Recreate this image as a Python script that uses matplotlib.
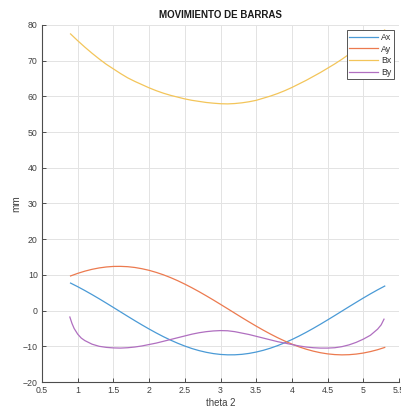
import matplotlib
matplotlib.use("Agg")
import matplotlib.pyplot as plt

plt.rcParams['font.family'] = ['Liberation Sans', 'DejaVu Sans']

# crank angle (rad)
theta = [0.9, 1.0, 1.1, 1.2, 1.3, 1.4, 1.5, 1.6, 1.7, 1.8, 1.9, 2.0, 2.1, 2.2,
         2.3, 2.4, 2.5, 2.6, 2.7, 2.8, 2.9, 3.0, 3.1, 3.2, 3.3, 3.4, 3.5, 3.6,
         3.7, 3.8, 3.9, 4.0, 4.1, 4.2, 4.3, 4.4, 4.5, 4.6, 4.7, 4.8, 4.9, 5.0,
         5.1, 5.2, 5.3]

ax_pos = [7.71, 6.70, 5.62, 4.49, 3.32, 2.11, 0.88, -0.36, -1.60, -2.82, -4.01,
          -5.16, -6.26, -7.30, -8.26, -9.14, -9.93, -10.63, -11.21, -11.68,
          -12.04, -12.28, -12.39, -12.38, -12.25, -11.99, -11.61, -11.12,
          -10.52, -9.81, -9.00, -8.11, -7.13, -6.08, -4.97, -3.81, -2.61,
          -1.39, -0.15, 1.09, 2.31, 3.52, 4.69, 5.81, 6.87]

ay_pos = [9.71, 10.43, 11.05, 11.56, 11.95, 12.22, 12.37, 12.39, 12.30, 12.08,
          11.73, 11.28, 10.70, 10.03, 9.25, 8.38, 7.42, 6.39, 5.30, 4.15, 2.97,
          1.75, 0.52, -0.72, -1.96, -3.17, -4.35, -5.49, -6.57, -7.59, -8.53,
          -9.38, -10.15, -10.81, -11.36, -11.80, -12.12, -12.32, -12.40,
          -12.35, -12.18, -11.89, -11.48, -10.96, -10.32]

bx_pos = [77.5, 75.6, 73.8, 72.1, 70.5, 69.0, 67.7, 66.4, 65.2, 64.2, 63.3,
          62.4, 61.6, 60.9, 60.3, 59.8, 59.3, 58.9, 58.6, 58.3, 58.1, 57.95,
          57.9, 58.0, 58.2, 58.5, 58.9, 59.5, 60.1, 60.8, 61.6, 62.5, 63.5,
          64.5, 65.6, 66.7, 67.9, 69.1, 70.4, 71.8, 73.2, 74.6, 76.0, 77.3,
          78.6]

# By is sampled more finely near the ends, where it turns sharply
theta_by = [0.89, 0.92, 0.95, 1.0, 1.05, 1.1, 1.2, 1.3, 1.4, 1.5, 1.6, 1.7,
            1.8, 1.9, 2.0, 2.1, 2.2, 2.3, 2.4, 2.5, 2.6, 2.7, 2.8, 2.9, 3.0,
            3.1, 3.2, 3.3, 3.4, 3.5, 3.6, 3.7, 3.8, 3.9, 4.0, 4.1, 4.2, 4.3,
            4.4, 4.5, 4.6, 4.7, 4.8, 4.9, 5.0, 5.1, 5.2, 5.25, 5.29]
by_pos = [-1.8, -3.6, -5.0, -6.6, -7.7, -8.4, -9.4, -10.0, -10.3, -10.45,
          -10.5, -10.4, -10.2, -9.9, -9.5, -9.1, -8.6, -8.1, -7.6, -7.1, -6.6,
          -6.2, -5.9, -5.7, -5.6, -5.65, -5.9, -6.3, -6.7, -7.2, -7.7, -8.2,
          -8.7, -9.1, -9.5, -9.9, -10.2, -10.4, -10.5, -10.5, -10.4, -10.1,
          -9.6, -8.9, -8.0, -6.9, -5.2, -4.0, -2.4]

labels = ['Ax', 'Ay', 'Bx', 'By']
colors = ['#4a9ad6', '#ec7a4f', '#f3c55a', '#b06fc0']

xticks = [0.5, 1, 1.5, 2, 2.5, 3, 3.5, 4, 4.5, 5, 5.5]
yticks = [-20, -10, 0, 10, 20, 30, 40, 50, 60, 70, 80]

fig = plt.figure(figsize=(4.01, 4.11), dpi=100)
ax = fig.add_axes([42 / 401, 29 / 411, 357 / 401, 357 / 411])

ax.plot(theta, ax_pos, color=colors[0], lw=0.9, label=labels[0])
ax.plot(theta, ay_pos, color=colors[1], lw=0.9, label=labels[1])
ax.plot(theta, bx_pos, color=colors[2], lw=0.9, label=labels[2])
ax.plot(theta_by, by_pos, color=colors[3], lw=0.9, label=labels[3])

ax.set_xlim(0.5, 5.5)
ax.set_ylim(-20, 80)
ax.set_xticks(xticks)
ax.set_xticklabels([f'{t:g}' for t in xticks])
ax.set_yticks(yticks)

ax.grid(True, color='#e3e3e3', lw=0.7)
ax.set_axisbelow(True)
for side in ('top', 'right'):
    ax.spines[side].set_visible(False)
for side in ('left', 'bottom'):
    ax.spines[side].set_color('#4d4d4d')
    ax.spines[side].set_linewidth(0.8)

ax.tick_params(direction='in', length=3, width=0.7, colors='#4d4d4d',
               labelsize=6.3, labelcolor='#404040', pad=3)

ax.set_title('MOVIMIENTO DE BARRAS', fontsize=7.0, fontweight='bold',
             color='#1a1a1a', pad=5)
ax.set_xlabel('theta 2', fontsize=6.9, color='#404040', labelpad=2)
ax.set_ylabel('mm', fontsize=7.2, color='#404040', labelpad=1)

leg = ax.legend(loc='upper right', fontsize=6.3, frameon=True, fancybox=False,
                edgecolor='#555555', framealpha=1, handlelength=3.3,
                handletextpad=0.3, borderpad=0.3, labelspacing=0.3,
                borderaxespad=0.6, labelcolor='#333333')
leg.get_frame().set_linewidth(0.7)

fig.savefig('out.png', dpi=100)
